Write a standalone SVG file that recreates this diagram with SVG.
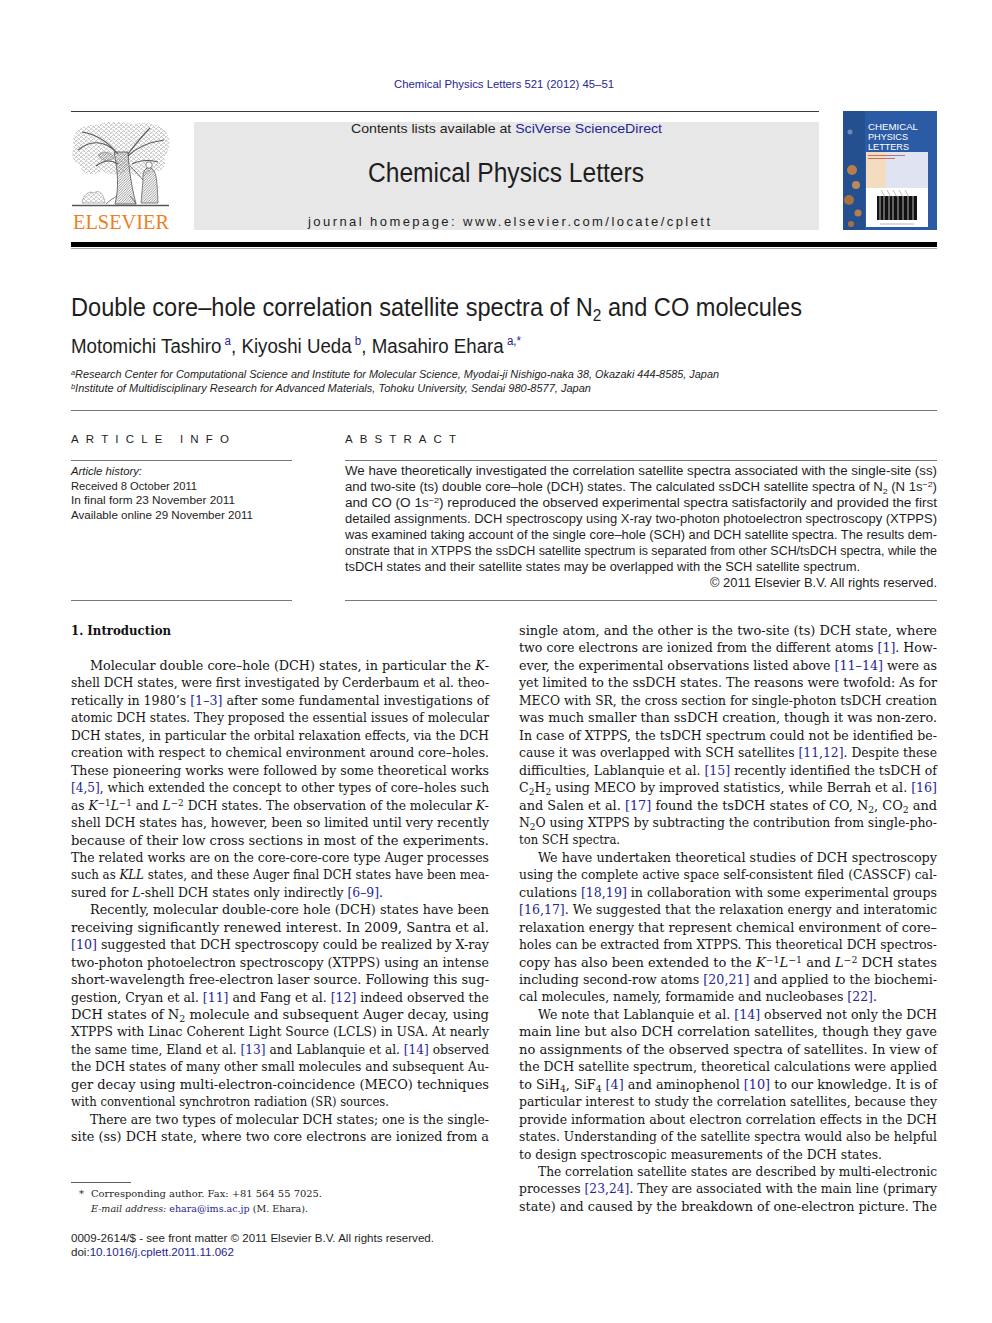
<svg xmlns="http://www.w3.org/2000/svg" width="992" height="1323" viewBox="0 0 992 1323">
<style>
.b{font-family:"DejaVu Serif","Liberation Serif",serif;font-size:12.5px;fill:#151515}
.bb{font-family:"DejaVu Serif","Liberation Serif",serif;font-size:12.5px;font-weight:bold;fill:#111}
.s{font-family:"Liberation Sans","DejaVu Sans",sans-serif;fill:#1e1e1e}
.fn{font-family:"DejaVu Serif","Liberation Serif",serif;font-size:10px;fill:#1e1e1e}
.r{fill:#262693}
.i{font-style:italic}
.sup{font-size:9px}
.rule{stroke:#3a3a3a;stroke-width:1}
.thin{stroke:#555;stroke-width:0.8}
.tr{stroke:#5a5a5a;fill:none}
</style>
<defs>
<pattern id="leaf" width="5" height="4" patternUnits="userSpaceOnUse">
<path d="M0 1.5 q1.2 -1.6 2.5 0 M2.5 3.5 q1.2 -1.6 2.5 0" stroke="#5c5c5c" stroke-width="0.55" fill="none"/>
</pattern>
<pattern id="hatch" width="2.5" height="2.5" patternUnits="userSpaceOnUse">
<path d="M0 2.5 L2.5 0" stroke="#555" stroke-width="0.6"/>
</pattern>
</defs>
<rect width="992" height="1323" fill="#fff"/>

<g id="header">
<text class="s r" x="394" y="88" font-size="11.5" textLength="220" lengthAdjust="spacingAndGlyphs">Chemical Physics Letters 521 (2012) 45–51</text>
<line class="rule" x1="71" y1="111.5" x2="819" y2="111.5"/>
<rect x="194" y="122" width="625" height="108" fill="#e7e7e7"/>
<text class="s" x="351" y="133" font-size="13" textLength="311" lengthAdjust="spacingAndGlyphs">Contents lists available at <tspan class="r">SciVerse ScienceDirect</tspan></text>
<text class="s" x="368" y="182" font-size="27" textLength="276" lengthAdjust="spacingAndGlyphs">Chemical Physics Letters</text>
<text class="s" x="308" y="226" font-size="13" textLength="402" lengthAdjust="spacing">journal homepage: www.elsevier.com/locate/cplett</text>
<rect x="71" y="242" width="866" height="5" fill="#000"/>
<line x1="71" y1="248.5" x2="937" y2="248.5" stroke="#aaa" stroke-width="1"/>
</g>

<g id="elsevier-logo">
<path d="M74,148 C70,134 80,124 96,125 C108,120 122,122 132,124 C146,121 162,124 167,133 C172,142 169,152 164,158 C168,166 160,174 150,172 C144,180 132,176 128,170 C120,176 108,176 102,170 C94,178 80,174 80,164 C72,162 70,154 74,148 Z" fill="url(#leaf)"/>
<path d="M78,150 C90,140 104,140 116,152 M82,132 C96,134 108,142 118,154 M164,140 C150,142 136,148 128,156 M150,128 C142,136 134,146 128,154 M96,166 C104,160 112,160 118,164 M158,162 C150,160 140,160 132,164" class="tr" stroke-width="1.1"/>
<path d="M115,204 C119,188 118,172 114,152 L128,152 C129,172 132,188 136,204 Z" fill="url(#hatch)" stroke="#555" stroke-width="0.8"/>
<path d="M106,204 C110,200 114,198 117,196 M136,204 C134,200 132,198 130,196" class="tr" stroke-width="0.8"/>
<path d="M141,203 L143,180 C142,172 146,166 151,168 C157,171 157,182 158,203 Z" fill="url(#hatch)" stroke="#555" stroke-width="0.7"/>
<circle cx="149" cy="165" r="3.2" fill="#fff" stroke="#555" stroke-width="0.7"/>
<path d="M143,180 L136,172 L130,166" class="tr" stroke-width="0.8"/>
<path d="M82,203 C83,195 89,190 94,193 C98,189 104,193 105,203 Z" fill="url(#leaf)" stroke="#777" stroke-width="0.5"/>
<path d="M98,155 C104,150 112,152 114,158 C108,162 102,162 98,155 Z" fill="url(#hatch)" stroke="#666" stroke-width="0.5"/>
<line x1="72" y1="205.5" x2="169" y2="205.5" stroke="#555" stroke-width="1.3"/>
<text x="73" y="229" font-family="Liberation Serif,serif" font-size="21" fill="#f07f22" textLength="96" lengthAdjust="spacingAndGlyphs">ELSEVIER</text>
</g>

<g id="cover">
<rect x="843" y="111" width="94" height="119" fill="#2c5ba6"/>
<rect x="843" y="111" width="22" height="119" fill="#25508f"/>
<circle cx="852" cy="170" r="5" fill="#d98a3a" opacity="0.8"/>
<circle cx="856" cy="185" r="4" fill="#e09a4a" opacity="0.8"/>
<circle cx="849" cy="200" r="5" fill="#c9782e" opacity="0.8"/>
<circle cx="858" cy="213" r="3.5" fill="#d98a3a" opacity="0.8"/>
<circle cx="851" cy="224" r="3" fill="#c9782e" opacity="0.8"/>
<circle cx="850" cy="132" r="2.5" fill="#8aa2c8" opacity="0.7"/>
<text x="868" y="130" font-family="Liberation Sans,sans-serif" font-size="9" fill="#fff" textLength="50" lengthAdjust="spacingAndGlyphs">CHEMICAL</text>
<text x="868" y="140" font-family="Liberation Sans,sans-serif" font-size="9" fill="#fff" textLength="40" lengthAdjust="spacingAndGlyphs">PHYSICS</text>
<text x="868" y="150" font-family="Liberation Sans,sans-serif" font-size="9" fill="#fff" textLength="41" lengthAdjust="spacingAndGlyphs">LETTERS</text>
<rect x="866" y="152" width="62" height="75" fill="#fff"/>
<rect x="866" y="152" width="62" height="36" fill="#dfe3f2"/>
<rect x="866" y="152" width="20" height="36" fill="#f3dcc0"/>
<line x1="868" y1="155.5" x2="905" y2="155.5" stroke="#c0504a" stroke-width="0.8"/>
<line x1="868" y1="158.5" x2="895" y2="158.5" stroke="#c0504a" stroke-width="0.8"/>
<rect x="877" y="196" width="40" height="24" fill="#111"/>
<path d="M880,196 V220 M884,196 V220 M889,196 V220 M893,196 V220 M898,196 V220 M903,196 V220 M908,196 V220 M913,196 V220" stroke="#ddd" stroke-width="0.8"/>
<path d="M881,190 L885,197 M887,190 L891,197 M893,190 L897,197 M899,190 L903,197 M905,190 L909,197" stroke="#888" stroke-width="0.6"/>
<line x1="880" y1="224" x2="914" y2="224" stroke="#888" stroke-width="0.6"/>
</g>

<g id="title-block">
<text class="s" x="71" y="316" font-size="26" textLength="731" lengthAdjust="spacingAndGlyphs">Double core–hole correlation satellite spectra of N<tspan dy="5" font-size="17">2</tspan><tspan dy="-5"> and CO molecules</tspan></text>
<text class="s" x="71" y="353" font-size="19.5" textLength="450" lengthAdjust="spacingAndGlyphs">Motomichi Tashiro<tspan class="r" dy="-8" font-size="12"> a</tspan><tspan dy="8">, Kiyoshi Ueda</tspan><tspan class="r" dy="-8" font-size="12"> b</tspan><tspan dy="8">, Masahiro Ehara</tspan><tspan class="r" dy="-8" font-size="12"> a,*</tspan></text>
<text class="s i" x="71" y="378" font-size="10.5" textLength="648" lengthAdjust="spacingAndGlyphs"><tspan dy="-3" font-size="7">a</tspan><tspan dy="3">Research Center for Computational Science and Institute for Molecular Science, Myodai-ji Nishigo-naka 38, Okazaki 444-8585, Japan</tspan></text>
<text class="s i" x="71" y="392" font-size="10.5" textLength="520" lengthAdjust="spacingAndGlyphs"><tspan dy="-3" font-size="7">b</tspan><tspan dy="3">Institute of Multidisciplinary Research for Advanced Materials, Tohoku University, Sendai 980-8577, Japan</tspan></text>
<line x1="71" y1="410.5" x2="937" y2="410.5" stroke="#777" stroke-width="1"/>
</g>

<g id="article-info">
<text class="s" x="71" y="443" font-size="11.5" textLength="158" lengthAdjust="spacing">ARTICLE INFO</text>
<line class="thin" x1="71" y1="460.5" x2="292" y2="460.5"/>
<text class="s i" x="71" y="475" font-size="11" textLength="71" lengthAdjust="spacingAndGlyphs">Article history:</text>
<text class="s" x="71" y="489.5" font-size="11" textLength="126" lengthAdjust="spacingAndGlyphs">Received 8 October 2011</text>
<text class="s" x="71" y="504" font-size="11" textLength="164" lengthAdjust="spacingAndGlyphs">In final form 23 November 2011</text>
<text class="s" x="71" y="518.5" font-size="11" textLength="182" lengthAdjust="spacingAndGlyphs">Available online 29 November 2011</text>
<line class="thin" x1="71" y1="600.5" x2="292" y2="600.5"/>
</g>

<g id="abstract">
<text class="s" x="345" y="443" font-size="11.5" textLength="111" lengthAdjust="spacing">ABSTRACT</text>
<line class="thin" x1="345" y1="460.5" x2="937" y2="460.5"/>
<g class="s" font-size="12">
<text x="345" y="475" textLength="592" lengthAdjust="spacingAndGlyphs">We have theoretically investigated the correlation satellite spectra associated with the single-site (ss)</text>
<text x="345" y="491" textLength="592" lengthAdjust="spacingAndGlyphs">and two-site (ts) double core–hole (DCH) states. The calculated ssDCH satellite spectra of N<tspan dy="3" font-size="8">2</tspan><tspan dy="-3"> (N 1s</tspan><tspan dy="-4" font-size="8">−2</tspan><tspan dy="4">)</tspan></text>
<text x="345" y="507" textLength="592" lengthAdjust="spacingAndGlyphs">and CO (O 1s<tspan dy="-4" font-size="8">−2</tspan><tspan dy="4">) reproduced the observed experimental spectra satisfactorily and provided the first</tspan></text>
<text x="345" y="523" textLength="592" lengthAdjust="spacingAndGlyphs">detailed assignments. DCH spectroscopy using X-ray two-photon photoelectron spectroscopy (XTPPS)</text>
<text x="345" y="539" textLength="592" lengthAdjust="spacingAndGlyphs">was examined taking account of the single core–hole (SCH) and DCH satellite spectra. The results dem-</text>
<text x="345" y="555" textLength="592" lengthAdjust="spacingAndGlyphs">onstrate that in XTPPS the ssDCH satellite spectrum is separated from other SCH/tsDCH spectra, while the</text>
<text x="345" y="571" textLength="515" lengthAdjust="spacingAndGlyphs">tsDCH states and their satellite states may be overlapped with the SCH satellite spectrum.</text>
<text x="710" y="587" textLength="227" lengthAdjust="spacingAndGlyphs">© 2011 Elsevier B.V. All rights reserved.</text>
</g>
<line class="thin" x1="345" y1="600.5" x2="937" y2="600.5"/>
</g>

<g id="left-column">
<text class="bb" x="71" y="635" textLength="100" lengthAdjust="spacingAndGlyphs">1. Introduction</text>
<text class="b" x="90" y="670" textLength="399" lengthAdjust="spacingAndGlyphs">Molecular double core–hole (DCH) states, in particular the <tspan class="i">K</tspan>-</text>
<text class="b" x="71" y="687.45" textLength="418" lengthAdjust="spacingAndGlyphs">shell DCH states, were first investigated by Cerderbaum et al. theo-</text>
<text class="b" x="71" y="704.9" textLength="418" lengthAdjust="spacingAndGlyphs">retically in 1980’s <tspan class="r">[1–3]</tspan> after some fundamental investigations of</text>
<text class="b" x="71" y="722.35" textLength="418" lengthAdjust="spacingAndGlyphs">atomic DCH states. They proposed the essential issues of molecular</text>
<text class="b" x="71" y="739.8" textLength="418" lengthAdjust="spacingAndGlyphs">DCH states, in particular the orbital relaxation effects, via the DCH</text>
<text class="b" x="71" y="757.25" textLength="418" lengthAdjust="spacingAndGlyphs">creation with respect to chemical environment around core–holes.</text>
<text class="b" x="71" y="774.7" textLength="418" lengthAdjust="spacingAndGlyphs">These pioneering works were followed by some theoretical works</text>
<text class="b" x="71" y="792.15" textLength="418" lengthAdjust="spacingAndGlyphs"><tspan class="r">[4,5]</tspan>, which extended the concept to other types of core–holes such</text>
<text class="b" x="71" y="809.6" textLength="418" lengthAdjust="spacingAndGlyphs">as <tspan class="i">K</tspan><tspan class="sup" dy="-4">−1</tspan><tspan class="i" dy="4">L</tspan><tspan class="sup" dy="-4">−1</tspan><tspan dy="4"> and </tspan><tspan class="i">L</tspan><tspan class="sup" dy="-4">−2</tspan><tspan dy="4"> DCH states. The observation of the molecular </tspan><tspan class="i">K</tspan>-</text>
<text class="b" x="71" y="827.05" textLength="418" lengthAdjust="spacingAndGlyphs">shell DCH states has, however, been so limited until very recently</text>
<text class="b" x="71" y="844.5" textLength="418" lengthAdjust="spacingAndGlyphs">because of their low cross sections in most of the experiments.</text>
<text class="b" x="71" y="861.95" textLength="418" lengthAdjust="spacingAndGlyphs">The related works are on the core-core-core type Auger processes</text>
<text class="b" x="71" y="879.4" textLength="418" lengthAdjust="spacingAndGlyphs">such as <tspan class="i">KLL</tspan> states, and these Auger final DCH states have been mea-</text>
<text class="b" x="71" y="896.85" textLength="312" lengthAdjust="spacingAndGlyphs">sured for <tspan class="i">L</tspan>-shell DCH states only indirectly <tspan class="r">[6–9]</tspan>.</text>
<text class="b" x="90" y="914.3" textLength="399" lengthAdjust="spacingAndGlyphs">Recently, molecular double-core hole (DCH) states have been</text>
<text class="b" x="71" y="931.75" textLength="418" lengthAdjust="spacingAndGlyphs">receiving significantly renewed interest. In 2009, Santra et al.</text>
<text class="b" x="71" y="949.2" textLength="418" lengthAdjust="spacingAndGlyphs"><tspan class="r">[10]</tspan> suggested that DCH spectroscopy could be realized by X-ray</text>
<text class="b" x="71" y="966.65" textLength="418" lengthAdjust="spacingAndGlyphs">two-photon photoelectron spectroscopy (XTPPS) using an intense</text>
<text class="b" x="71" y="984.1" textLength="418" lengthAdjust="spacingAndGlyphs">short-wavelength free-electron laser source. Following this sug-</text>
<text class="b" x="71" y="1001.55" textLength="418" lengthAdjust="spacingAndGlyphs">gestion, Cryan et al. <tspan class="r">[11]</tspan> and Fang et al. <tspan class="r">[12]</tspan> indeed observed the</text>
<text class="b" x="71" y="1019" textLength="418" lengthAdjust="spacingAndGlyphs">DCH states of N<tspan class="sup" dy="3">2</tspan><tspan dy="-3"> molecule and subsequent Auger decay, using</tspan></text>
<text class="b" x="71" y="1036.45" textLength="418" lengthAdjust="spacingAndGlyphs">XTPPS with Linac Coherent Light Source (LCLS) in USA. At nearly</text>
<text class="b" x="71" y="1053.9" textLength="418" lengthAdjust="spacingAndGlyphs">the same time, Eland et al. <tspan class="r">[13]</tspan> and Lablanquie et al. <tspan class="r">[14]</tspan> observed</text>
<text class="b" x="71" y="1071.35" textLength="418" lengthAdjust="spacingAndGlyphs">the DCH states of many other small molecules and subsequent Au-</text>
<text class="b" x="71" y="1088.8" textLength="418" lengthAdjust="spacingAndGlyphs">ger decay using multi-electron-coincidence (MECO) techniques</text>
<text class="b" x="71" y="1106.25" textLength="318" lengthAdjust="spacingAndGlyphs">with conventional synchrotron radiation (SR) sources.</text>
<text class="b" x="90" y="1123.7" textLength="399" lengthAdjust="spacingAndGlyphs">There are two types of molecular DCH states; one is the single-</text>
<text class="b" x="71" y="1141.15" textLength="418" lengthAdjust="spacingAndGlyphs">site (ss) DCH state, where two core electrons are ionized from a</text>
</g>

<g id="right-column">
<text class="b" x="519" y="635" textLength="418" lengthAdjust="spacingAndGlyphs">single atom, and the other is the two-site (ts) DCH state, where</text>
<text class="b" x="519" y="652.45" textLength="418" lengthAdjust="spacingAndGlyphs">two core electrons are ionized from the different atoms <tspan class="r">[1]</tspan>. How-</text>
<text class="b" x="519" y="669.9" textLength="418" lengthAdjust="spacingAndGlyphs">ever, the experimental observations listed above <tspan class="r">[11–14]</tspan> were as</text>
<text class="b" x="519" y="687.35" textLength="418" lengthAdjust="spacingAndGlyphs">yet limited to the ssDCH states. The reasons were twofold: As for</text>
<text class="b" x="519" y="704.8" textLength="418" lengthAdjust="spacingAndGlyphs">MECO with SR, the cross section for single-photon tsDCH creation</text>
<text class="b" x="519" y="722.25" textLength="418" lengthAdjust="spacingAndGlyphs">was much smaller than ssDCH creation, though it was non-zero.</text>
<text class="b" x="519" y="739.7" textLength="418" lengthAdjust="spacingAndGlyphs">In case of XTPPS, the tsDCH spectrum could not be identified be-</text>
<text class="b" x="519" y="757.15" textLength="418" lengthAdjust="spacingAndGlyphs">cause it was overlapped with SCH satellites <tspan class="r">[11,12]</tspan>. Despite these</text>
<text class="b" x="519" y="774.6" textLength="418" lengthAdjust="spacingAndGlyphs">difficulties, Lablanquie et al. <tspan class="r">[15]</tspan> recently identified the tsDCH of</text>
<text class="b" x="519" y="792.05" textLength="418" lengthAdjust="spacingAndGlyphs">C<tspan class="sup" dy="3">2</tspan><tspan dy="-3">H</tspan><tspan class="sup" dy="3">2</tspan><tspan dy="-3"> using MECO by improved statistics, while Berrah et al. </tspan><tspan class="r">[16]</tspan></text>
<text class="b" x="519" y="809.5" textLength="418" lengthAdjust="spacingAndGlyphs">and Salen et al. <tspan class="r">[17]</tspan> found the tsDCH states of CO, N<tspan class="sup" dy="3">2</tspan><tspan dy="-3">, CO</tspan><tspan class="sup" dy="3">2</tspan><tspan dy="-3"> and</tspan></text>
<text class="b" x="519" y="826.95" textLength="418" lengthAdjust="spacingAndGlyphs">N<tspan class="sup" dy="3">2</tspan><tspan dy="-3">O using XTPPS by subtracting the contribution from single-pho-</tspan></text>
<text class="b" x="519" y="844.4" textLength="101" lengthAdjust="spacingAndGlyphs">ton SCH spectra.</text>
<text class="b" x="538" y="861.85" textLength="399" lengthAdjust="spacingAndGlyphs">We have undertaken theoretical studies of DCH spectroscopy</text>
<text class="b" x="519" y="879.3" textLength="418" lengthAdjust="spacingAndGlyphs">using the complete active space self-consistent filed (CASSCF) cal-</text>
<text class="b" x="519" y="896.75" textLength="418" lengthAdjust="spacingAndGlyphs">culations <tspan class="r">[18,19]</tspan> in collaboration with some experimental groups</text>
<text class="b" x="519" y="914.2" textLength="418" lengthAdjust="spacingAndGlyphs"><tspan class="r">[16,17]</tspan>. We suggested that the relaxation energy and interatomic</text>
<text class="b" x="519" y="931.65" textLength="418" lengthAdjust="spacingAndGlyphs">relaxation energy that represent chemical environment of core–</text>
<text class="b" x="519" y="949.1" textLength="418" lengthAdjust="spacingAndGlyphs">holes can be extracted from XTPPS. This theoretical DCH spectros-</text>
<text class="b" x="519" y="966.55" textLength="418" lengthAdjust="spacingAndGlyphs">copy has also been extended to the <tspan class="i">K</tspan><tspan class="sup" dy="-4">−1</tspan><tspan class="i" dy="4">L</tspan><tspan class="sup" dy="-4">−1</tspan><tspan dy="4"> and </tspan><tspan class="i">L</tspan><tspan class="sup" dy="-4">−2</tspan><tspan dy="4"> DCH states</tspan></text>
<text class="b" x="519" y="984" textLength="418" lengthAdjust="spacingAndGlyphs">including second-row atoms <tspan class="r">[20,21]</tspan> and applied to the biochemi-</text>
<text class="b" x="519" y="1001.45" textLength="358" lengthAdjust="spacingAndGlyphs">cal molecules, namely, formamide and nucleobases <tspan class="r">[22]</tspan>.</text>
<text class="b" x="538" y="1018.9" textLength="399" lengthAdjust="spacingAndGlyphs">We note that Lablanquie et al. <tspan class="r">[14]</tspan> observed not only the DCH</text>
<text class="b" x="519" y="1036.35" textLength="418" lengthAdjust="spacingAndGlyphs">main line but also DCH correlation satellites, though they gave</text>
<text class="b" x="519" y="1053.8" textLength="418" lengthAdjust="spacingAndGlyphs">no assignments of the observed spectra of satellites. In view of</text>
<text class="b" x="519" y="1071.25" textLength="418" lengthAdjust="spacingAndGlyphs">the DCH satellite spectrum, theoretical calculations were applied</text>
<text class="b" x="519" y="1088.7" textLength="418" lengthAdjust="spacingAndGlyphs">to SiH<tspan class="sup" dy="3">4</tspan><tspan dy="-3">, SiF</tspan><tspan class="sup" dy="3">4</tspan><tspan dy="-3"> </tspan><tspan class="r">[4]</tspan> and aminophenol <tspan class="r">[10]</tspan> to our knowledge. It is of</text>
<text class="b" x="519" y="1106.15" textLength="418" lengthAdjust="spacingAndGlyphs">particular interest to study the correlation satellites, because they</text>
<text class="b" x="519" y="1123.6" textLength="418" lengthAdjust="spacingAndGlyphs">provide information about electron correlation effects in the DCH</text>
<text class="b" x="519" y="1141.05" textLength="418" lengthAdjust="spacingAndGlyphs">states. Understanding of the satellite spectra would also be helpful</text>
<text class="b" x="519" y="1158.5" textLength="363" lengthAdjust="spacingAndGlyphs">to design spectroscopic measurements of the DCH states.</text>
<text class="b" x="538" y="1175.95" textLength="399" lengthAdjust="spacingAndGlyphs">The correlation satellite states are described by multi-electronic</text>
<text class="b" x="519" y="1193.4" textLength="418" lengthAdjust="spacingAndGlyphs">processes <tspan class="r">[23,24]</tspan>. They are associated with the main line (primary</text>
<text class="b" x="519" y="1210.85" textLength="418" lengthAdjust="spacingAndGlyphs">state) and caused by the breakdown of one-electron picture. The</text>
</g>

<g id="footnotes">
<line x1="71" y1="1182.5" x2="131" y2="1182.5" stroke="#333" stroke-width="0.8"/>
<text class="fn" x="79" y="1197">*</text>
<text class="fn" x="91" y="1197" textLength="231" lengthAdjust="spacingAndGlyphs">Corresponding author. Fax: +81 564 55 7025.</text>
<text class="fn" x="91" y="1212" textLength="217" lengthAdjust="spacingAndGlyphs"><tspan class="i">E-mail address:</tspan> <tspan class="r">ehara@ims.ac.jp</tspan> (M. Ehara).</text>
<text class="s" x="71" y="1242" font-size="11" textLength="363" lengthAdjust="spacingAndGlyphs">0009-2614/$ - see front matter © 2011 Elsevier B.V. All rights reserved.</text>
<text class="s" x="71" y="1256" font-size="11" textLength="163" lengthAdjust="spacingAndGlyphs">doi:<tspan class="r">10.1016/j.cplett.2011.11.062</tspan></text>
</g>
</svg>
